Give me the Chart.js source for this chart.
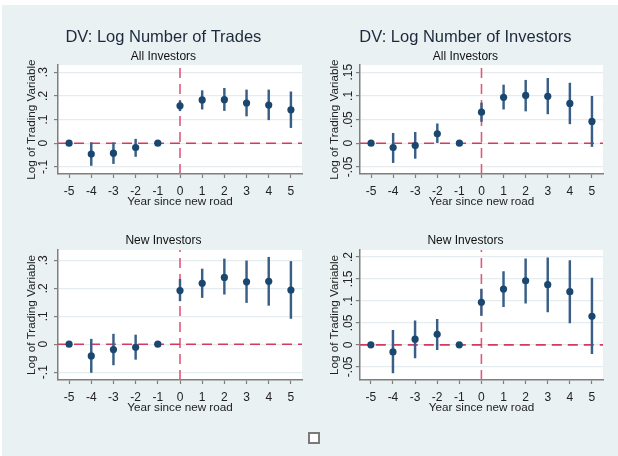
<!DOCTYPE html>
<html><head><meta charset="utf-8">
<script src="https://cdn.jsdelivr.net/npm/chart.js@4.4.1/dist/chart.umd.min.js"></script>
<style>
html,body{margin:0;padding:0;background:#fff;width:618px;height:456px;overflow:hidden;}
#bg{position:absolute;left:2px;top:5px;width:616px;height:451px;background:#eaf1f3;}
.pn{position:absolute;width:309px;height:228px;}
#sq{position:absolute;left:308px;top:432px;width:8px;height:8px;border:2px solid #7a7a7a;background:#fff;}
</style></head><body>
<div id="bg"></div>
<div class="pn" style="left:0;top:0"><canvas id="c1" width="309" height="228"></canvas></div>
<div class="pn" style="left:309px;top:0"><canvas id="c2" width="309" height="228"></canvas></div>
<div class="pn" style="left:0;top:228px"><canvas id="c3" width="309" height="228"></canvas></div>
<div class="pn" style="left:309px;top:228px"><canvas id="c4" width="309" height="228"></canvas></div>
<div id="sq"></div>
<script>
// ---- data ----
const years = [-5, -4, -3, -2, -1, 0, 1, 2, 3, 4, 5];
const xTicks = [-5, -4, -3, -2, -1, 0, 1, 2, 3, 4, 5];
const xRange = [-5.5, 5.5];

// DV: Log Number of Trades, All Investors
const tradesAllCoef = [0, -0.046, -0.042, -0.018, 0, 0.158, 0.183, 0.184, 0.170, 0.161, 0.141];
const tradesAllLo   = [null, -0.094, -0.086, -0.056, null, 0.137, 0.144, 0.138, 0.115, 0.099, 0.066];
const tradesAllHi   = [null, 0.002, 0.002, 0.017, null, 0.179, 0.222, 0.232, 0.225, 0.225, 0.217];

// DV: Log Number of Investors, All Investors
const invAllCoef = [0, -0.009, -0.005, 0.020, 0, 0.0655, 0.097, 0.101, 0.099, 0.084, 0.046];
const invAllLo   = [null, -0.041, -0.032, 0.000, null, 0.046, 0.072, 0.068, 0.062, 0.041, -0.007];
const invAllHi   = [null, 0.021, 0.023, 0.041, null, 0.085, 0.123, 0.133, 0.137, 0.127, 0.099];

// DV: Log Number of Trades, New Investors
const tradesNewCoef = [0, -0.042, -0.019, -0.011, 0, 0.192, 0.218, 0.239, 0.223, 0.225, 0.194];
const tradesNewLo   = [null, -0.101, -0.074, -0.054, null, 0.155, 0.167, 0.179, 0.149, 0.139, 0.092];
const tradesNewHi   = [null, 0.018, 0.036, 0.033, null, 0.232, 0.269, 0.305, 0.298, 0.311, 0.296];

// DV: Log Number of Investors, New Investors
const invNewCoef = [0, -0.016, 0.013, 0.024, 0, 0.097, 0.127, 0.146, 0.137, 0.121, 0.065];
const invNewLo   = [null, -0.064, -0.030, -0.011, null, 0.067, 0.087, 0.095, 0.075, 0.050, -0.020];
const invNewHi   = [null, 0.033, 0.055, 0.058, null, 0.127, 0.167, 0.196, 0.198, 0.192, 0.152];

// y-axis ticks
const yTicksA = [-0.1, 0, 0.1, 0.2, 0.3];
const yLabelsA = ["-.1", "0", ".1", ".2", ".3"];
const yTicksB = [-0.05, 0, 0.05, 0.1, 0.15];
const yLabelsB = ["-.05", "0", ".05", ".1", ".15"];
const yTicksC = [-0.05, 0, 0.05, 0.1, 0.15, 0.2];
const yLabelsC = ["-.05", "0", ".05", ".1", ".15", ".2"];

const refX = 0, refY = 0;

// ---- drawing ----
const FONT = "'Liberation Sans', Arial, Helvetica, sans-serif";
Chart.defaults.font.family = FONT;

const plotBg = {
  id: 'plotBg',
  beforeDraw(chart) {
    const {ctx, chartArea: a} = chart;
    ctx.save();
    ctx.fillStyle = '#ffffff';
    ctx.fillRect(a.left, a.top, a.width, a.height);
    ctx.restore();
  }
};

function makeChart(id, p) {
  const pts = years.map((x, i) => ({x: x, y: p.coef[i]}));
  const ci = years.map((x, i) => ({x: x, y: [p.lo[i], p.hi[i]]})).filter(d => d.y[0] !== null);
  const title = p.main
    ? {display: true, text: p.main, font: {size: 16.5, weight: 'normal'}, color: '#1c2a3c', padding: {top: p.tPadTop, bottom: 0}}
    : {display: true, text: p.sub, font: {size: 12, weight: 'normal'}, color: '#111', padding: {top: p.tPadTop, bottom: p.tPadBot}};
  const subtitle = p.main
    ? {display: true, text: p.sub, font: {size: 12, weight: 'normal'}, color: '#111', padding: {top: 2.2, bottom: 1.5}}
    : {display: false};
  new Chart(document.getElementById(id), {
    type: 'scatter',
    data: {
      datasets: [
        {type: 'scatter', data: pts, pointRadius: 3.6, pointHoverRadius: 3.6, pointBackgroundColor: '#1a476f', pointBorderColor: '#1a476f', pointBorderWidth: 0, order: 0},
        {type: 'bar', data: ci, backgroundColor: '#3a5f86', borderWidth: 0, barThickness: 1.8, grouped: false, order: 1},
        {type: 'line', data: [{x: xRange[0], y: refY}, {x: xRange[1], y: refY}], showLine: true, borderColor: '#d23a5f', borderWidth: 1.6, borderDash: [10, 6], pointRadius: 0, order: 2},
        {type: 'line', data: [{x: refX, y: p.yMin}, {x: refX, y: p.yMax}], showLine: true, borderColor: '#de5a7b', borderWidth: 1.6, borderDash: [10, 6], pointRadius: 0, order: 3}
      ]
    },
    options: {
      responsive: false,
      animation: false,
      events: [],
      layout: {padding: {left: p.L, right: p.R, top: 0, bottom: p.B}},
      plugins: {legend: {display: false}, tooltip: {enabled: false}, title: title, subtitle: subtitle},
      scales: {
        x: {
          type: 'linear', min: xRange[0], max: xRange[1], offset: false,
          afterBuildTicks: s => { s.ticks = xTicks.map(v => ({value: v})); },
          afterFit: s => { s.height = 34.4; },
          ticks: {callback: v => String(v), font: {size: 12}, color: '#222', padding: 6.3, maxRotation: 0, minRotation: 0, autoSkip: false},
          grid: {display: true, drawOnChartArea: false, drawTicks: true, tickLength: 4, tickColor: '#7f7f7f', tickWidth: 1.2, offset: false},
          border: {display: true, color: '#7f7f7f', width: 1.5},
          title: {display: true, text: 'Year since new road', font: {size: 11.7}, color: '#222', padding: 0}
        },
        y: {
          type: 'linear', min: p.yMin, max: p.yMax,
          afterBuildTicks: s => { s.ticks = p.ticks.map(v => ({value: v})); },
          afterFit: s => { s.width = p.yw; },
          ticks: {callback: (v, i) => p.labels[i], minRotation: 90, maxRotation: 90, crossAlign: 'center', padding: p.tp, font: {size: 12}, color: '#222', autoSkip: false},
          grid: {color: '#e4ecef', lineWidth: 1.2, drawTicks: true, tickLength: 4, tickColor: '#7f7f7f', tickWidth: 1.2},
          border: {display: true, color: '#7f7f7f', width: 1.5},
          title: {display: true, text: 'Log of Trading Variable', font: {size: 11.7}, color: '#222', padding: 0}
        }
      }
    },
    plugins: [plotBg]
  });
}

makeChart('c1', {main: 'DV: Log Number of Trades', sub: 'All Investors', tPadTop: 27.2,
  coef: tradesAllCoef, lo: tradesAllLo, hi: tradesAllHi,
  yMin: -0.13, yMax: 0.33, ticks: yTicksA, labels: yLabelsA,
  L: 24.8, R: 7, B: 19.6, yw: 33.2, tp: 3.3});
makeChart('c2', {main: 'DV: Log Number of Investors', sub: 'All Investors', tPadTop: 27.2,
  coef: invAllCoef, lo: invAllLo, hi: invAllHi,
  yMin: -0.065, yMax: 0.165, ticks: yTicksB, labels: yLabelsB,
  L: 18.8, R: 15, B: 19.6, yw: 32.2, tp: -2.9});
makeChart('c3', {main: null, sub: 'New Investors', tPadTop: 5.5, tPadBot: 2.1,
  coef: tradesNewCoef, lo: tradesNewLo, hi: tradesNewHi,
  yMin: -0.128, yMax: 0.337, ticks: yTicksA, labels: yLabelsA,
  L: 24.8, R: 7, B: 41.6, yw: 33.2, tp: 3.3});
makeChart('c4', {main: null, sub: 'New Investors', tPadTop: 5.5, tPadBot: 2.1,
  coef: invNewCoef, lo: invNewLo, hi: invNewHi,
  yMin: -0.08, yMax: 0.216, ticks: yTicksC, labels: yLabelsC,
  L: 18.8, R: 15, B: 41.6, yw: 32, tp: -2.9});
</script>
</body></html>
